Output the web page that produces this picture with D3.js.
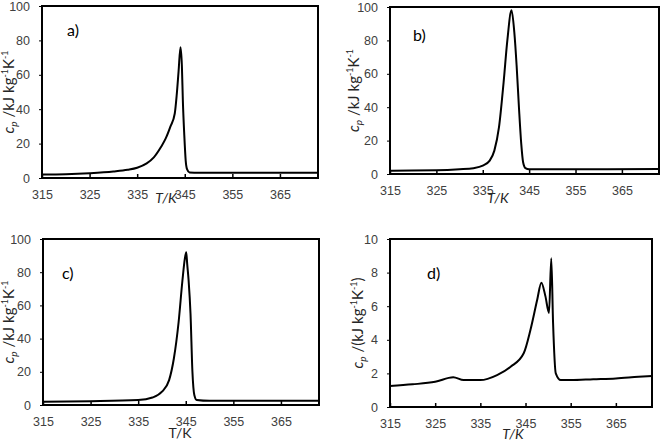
<!DOCTYPE html>
<html lang="en">
<head>
<meta charset="utf-8">
<title>cp curves</title>
<script src="https://d3js.org/d3.v7.min.js"></script>
<style>
  body { margin: 0; background: #fff; }
  svg { display: block; font-family: Lato, "Open Sans", sans-serif; }
  .tick text { fill: #404040; font-size: 12.5px; }
</style>
</head>
<body>
<div id="chart"></div>
<script>
// tick labels shared by all four panels
const xTicks = [315, 325, 335, 345, 355, 365];
const yTicksBig = [0, 20, 40, 60, 80, 100];
const yTicksSmall = [0, 2, 4, 6, 8, 10];

// panel a)
const tempA = [315, 320, 325, 330, 333, 335, 337, 338.5, 340, 341, 342, 342.9, 343.3, 343.7, 344.1, 344.4, 344.6, 344.9, 345.2, 345.5, 346, 348, 360, 373];
const cpA   = [2.0, 2.2, 2.8, 3.8, 4.8, 6.0, 8.5, 12, 18, 23, 30, 37.5, 48, 62, 76, 65, 45, 25, 10, 5, 3.2, 3.0, 3.0, 3.0];

// panel b)
const tempB = [315, 325, 330, 333, 335, 336.5, 337.5, 338.5, 339.5, 340.3, 341.2, 341.8, 342.3, 342.8, 343.3, 343.7, 344.2, 345, 373];
const cpB   = [2.0, 2.2, 2.8, 3.5, 5, 8, 14, 28, 55, 80, 98, 85, 65, 40, 18, 7, 3.5, 2.8, 3.0];

// panel c)
const tempC = [315, 325, 335, 338, 340, 341.5, 342.5, 343.5, 344.3, 344.8, 345.1, 345.3, 345.6, 346.0, 346.4, 346.8, 347.3, 350, 373];
const cpC   = [2.0, 2.3, 3.0, 4.5, 8, 15, 28, 50, 75, 88, 92, 85, 75, 55, 20, 6, 3, 2.5, 2.5];

// panel d)
const tempD = [315, 320, 325, 329, 331.3, 335, 338.7, 341.7, 344.6, 346.1, 347.6, 348.5, 349.4, 350.2, 350.7, 351.1, 351.7, 352.8, 355, 360, 365, 370, 373];
const cpD   = [1.25, 1.35, 1.5, 1.77, 1.6, 1.6, 1.9, 2.4, 3.2, 4.6, 6.4, 7.4, 6.6, 5.6, 8.85, 5, 2, 1.6, 1.6, 1.65, 1.7, 1.8, 1.85];

const panels = [
  { temps: tempA, cps: cpA, yTicks: yTicksBig, ymax: 100, left: 42, right: 318, top: 6, bottom: 178,
    tag: "a)", tagX: 67, tagY: 36, titleX: 166, titleY: 203, italicT: true, yTitleX: 14, paren: false },
  { temps: tempB, cps: cpB, yTicks: yTicksBig, ymax: 100, left: 390, right: 659, top: 7, bottom: 174,
    tag: "b)", tagX: 413, tagY: 41, titleX: 498, titleY: 203, italicT: true, yTitleX: 359, paren: false },
  { temps: tempC, cps: cpC, yTicks: yTicksBig, ymax: 100, left: 43, right: 319, top: 239, bottom: 405,
    tag: "c)", tagX: 62, tagY: 279, titleX: 180, titleY: 438, italicT: false, yTitleX: 14, paren: false },
  { temps: tempD, cps: cpD, yTicks: yTicksSmall, ymax: 10, left: 390, right: 652, top: 239, bottom: 407,
    tag: "d)", tagX: 427, tagY: 279, titleX: 513, titleY: 439, italicT: true, yTitleX: 363, paren: true }
];

const svg = d3.select("#chart").append("svg")
  .attr("width", 662)
  .attr("height", 442);

panels.forEach(function(p) {
  const x = d3.scaleLinear().domain([315, 373]).range([p.left, p.right]);
  const y = d3.scaleLinear().domain([0, p.ymax]).range([p.bottom, p.top]);

  const g = svg.append("g");

  // x axis: ticks point inward from the bottom frame
  g.append("g")
    .attr("transform", `translate(0, ${p.bottom})`)
    .call(d3.axisBottom(x).tickValues(xTicks).tickSizeInner(-4).tickSizeOuter(0).tickPadding(12))
    .call(a => a.select(".domain").remove())
    .call(a => a.selectAll("line").attr("stroke", "#000").attr("stroke-width", 1.5));

  // y axis
  g.append("g")
    .attr("transform", `translate(${p.left}, 0)`)
    .call(d3.axisLeft(y).tickValues(p.yTicks).tickSizeInner(3).tickSizeOuter(0).tickPadding(9))
    .call(a => a.select(".domain").remove())
    .call(a => a.selectAll("line").attr("stroke", "#000"));

  // data line
  const pts = p.temps.map((t, i) => [t, p.cps[i]]);
  g.append("path")
    .datum(pts)
    .attr("fill", "none")
    .attr("stroke", "#000")
    .attr("stroke-width", 2)
    .attr("stroke-linejoin", "round")
    .attr("d", d3.line().x(d => x(d[0])).y(d => y(d[1])).curve(d3.curveMonotoneX));

  // frame
  g.append("rect")
    .attr("x", p.left).attr("y", p.top)
    .attr("width", p.right - p.left).attr("height", p.bottom - p.top)
    .attr("fill", "none").attr("stroke", "#000").attr("stroke-width", 2);

  // panel tag
  g.append("text")
    .attr("x", p.tagX).attr("y", p.tagY)
    .style("font-size", "16px")
    .text(p.tag);

  // x title
  g.append("text")
    .attr("x", p.titleX).attr("y", p.titleY)
    .attr("text-anchor", "middle")
    .style("font-size", "14px")
    .style("font-style", p.italicT ? "italic" : "normal")
    .style("fill", "#262626")
    .text("T/K");

  // y title with sub/superscripts
  const mid = (p.top + p.bottom) / 2;
  const yt = g.append("text")
    .attr("transform", `translate(${p.yTitleX}, ${mid}) rotate(-90)`)
    .attr("text-anchor", "middle")
    .style("font-size", "15px")
    .style("fill", "#262626");
  yt.append("tspan").style("font-style", "italic").text("c");
  yt.append("tspan").style("font-style", "italic").style("font-size", "10px").attr("dy", 3).text("p");
  yt.append("tspan").attr("dy", -3).text(p.paren ? " /(kJ kg" : " /kJ kg");
  yt.append("tspan").style("font-size", "9px").attr("dy", -6).text("-1");
  yt.append("tspan").attr("dy", 6).text("K");
  yt.append("tspan").style("font-size", "9px").attr("dy", -6).text("-1");
  if (p.paren) yt.append("tspan").attr("dy", 6).text(")");
});
</script>
</body>
</html>
